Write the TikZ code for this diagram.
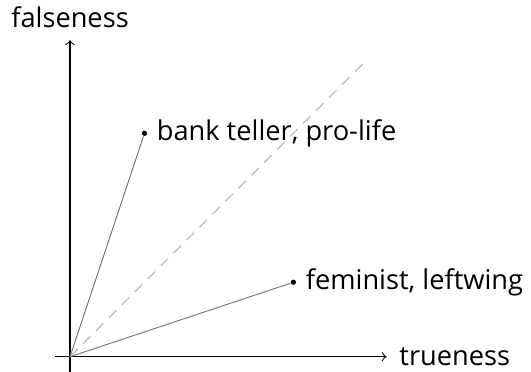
\documentclass[tikz,border=0pt]{standalone}
\usepackage{fontspec}
\setmainfont{Open Sans}
\usepackage{xcolor}
\definecolor{spokeGray}{HTML}{808080}
\definecolor{diagGray}{HTML}{BBBBBB}
\usetikzlibrary{%
    arrows,
    positioning
}

\begin{document}
\begin{tikzpicture}[auto, node distance=0cm,
                font=\fontsize{10.4}{12}\selectfont,
                axis/.style={draw, ->, line width=0.4pt},
                spoke/.style={draw, spokeGray, line width=0.4pt},
                diag/.style={draw, diagGray, dash pattern=on 4pt off 3pt, line width=0.5pt},
                point/.style={circle, fill=black, inner sep=0pt, minimum size=2pt},
                tag/.style={draw=none, inner sep=3.33pt}
            ]

            \useasboundingbox (-0.94,-0.2) rectangle (6.19,4.79);

            \coordinate (origin) at (0,0);
            \coordinate (xstart) at (-0.2,0);
            \coordinate (xend) at (4.25,0);
            \coordinate (ystart) at (0,-0.25);
            \coordinate (yend) at (0,4.25);
            \coordinate (diagend) at (4,4);

            % axes
            \draw[axis] (xstart) -- (xend);
            \draw[axis] (ystart) -- (yend);
            \node (trueness) [tag, right=0.05cm of xend] {trueness};
            \node (falseness) [tag, above=0.04cm of yend] {falseness};

            \draw[diag] (origin) -- (diagend);

            % the two points
            \node (bank) [point] at (1,3) {};
            \node (feminist) [point] at (3,1) {};
            \node (banktag) [tag, right=0cm of bank] {bank teller, pro-life};
            \node (feministtag) [tag, right=0cm of feminist] {feminist, leftwing};

            \draw[spoke] (origin) -- (bank);
            \draw[spoke] (origin) -- (feminist);
        \end{tikzpicture}
\end{document}
